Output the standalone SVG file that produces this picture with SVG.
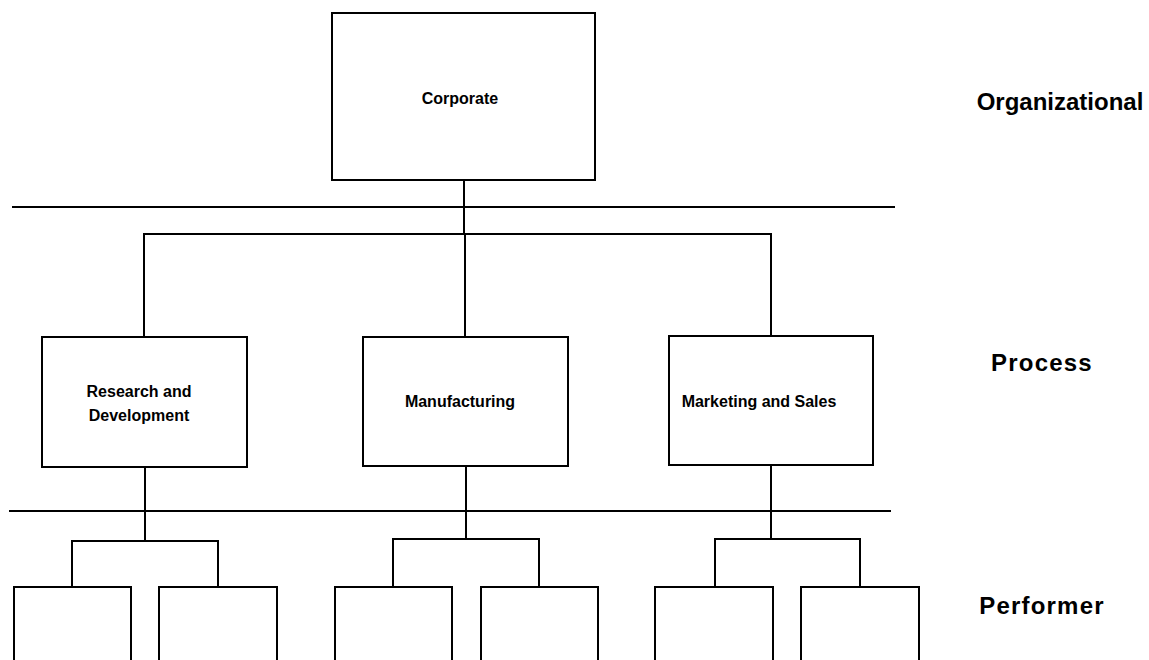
<svg xmlns="http://www.w3.org/2000/svg" width="1149" height="660" viewBox="0 0 1149 660">
<style>
.box{fill:#fff;stroke:#000;stroke-width:2}
.ln{fill:none;stroke:#000;stroke-width:2}
.sep{fill:none;stroke:#000;stroke-width:2.2}
.t{font-family:"Liberation Sans",Arial,sans-serif;font-size:16px;font-weight:bold;fill:#000;text-anchor:middle}
.lvl{font-family:"Liberation Sans",Arial,sans-serif;font-size:24px;font-weight:bold;fill:#000;text-anchor:middle}
.sp{letter-spacing:1.2px}
</style>
<rect width="1149" height="660" fill="#fff"/>
<g id="separators">
<line class="sep" x1="12" y1="207" x2="895" y2="207"/>
<line class="sep" x1="9" y1="511" x2="891" y2="511"/>
</g>
<g id="connectors">
<line class="ln" x1="464" y1="180" x2="464" y2="234"/>
<polyline class="ln" points="144,337 144,234 771,234 771,336"/>
<line class="ln" x1="465" y1="234" x2="465" y2="337"/>
<line class="ln" x1="145" y1="467" x2="145" y2="541"/>
<polyline class="ln" points="72,587 72,541 218,541 218,587"/>
<line class="ln" x1="466" y1="466" x2="466" y2="539"/>
<polyline class="ln" points="393,587 393,539 539,539 539,587"/>
<line class="ln" x1="771" y1="465" x2="771" y2="539"/>
<polyline class="ln" points="715,587 715,539 860,539 860,587"/>
</g>
<g id="corporate">
<rect class="box" x="332" y="13" width="263" height="167"/>
<text class="t" x="460" y="104">Corporate</text>
</g>
<g id="rnd">
<rect class="box" x="42" y="337" width="205" height="130"/>
<text class="t" x="139" y="397">Research and</text>
<text class="t" x="139" y="421">Development</text>
</g>
<g id="manufacturing">
<rect class="box" x="363" y="337" width="205" height="129"/>
<text class="t" x="460" y="407">Manufacturing</text>
</g>
<g id="marketing">
<rect class="box" x="669" y="336" width="204" height="129"/>
<text class="t" x="759" y="407">Marketing and Sales</text>
</g>
<g id="performer1"><rect class="box" x="14" y="587" width="117" height="80"/></g>
<g id="performer2"><rect class="box" x="159" y="587" width="118" height="80"/></g>
<g id="performer3"><rect class="box" x="335" y="587" width="117" height="80"/></g>
<g id="performer4"><rect class="box" x="481" y="587" width="117" height="80"/></g>
<g id="performer5"><rect class="box" x="655" y="587" width="118" height="80"/></g>
<g id="performer6"><rect class="box" x="801" y="587" width="118" height="80"/></g>
<g id="labels">
<text class="lvl" x="1060" y="110">Organizational</text>
<text class="lvl sp" x="1042" y="371">Process</text>
<text class="lvl sp" x="1042" y="614">Performer</text>
</g>
</svg>
